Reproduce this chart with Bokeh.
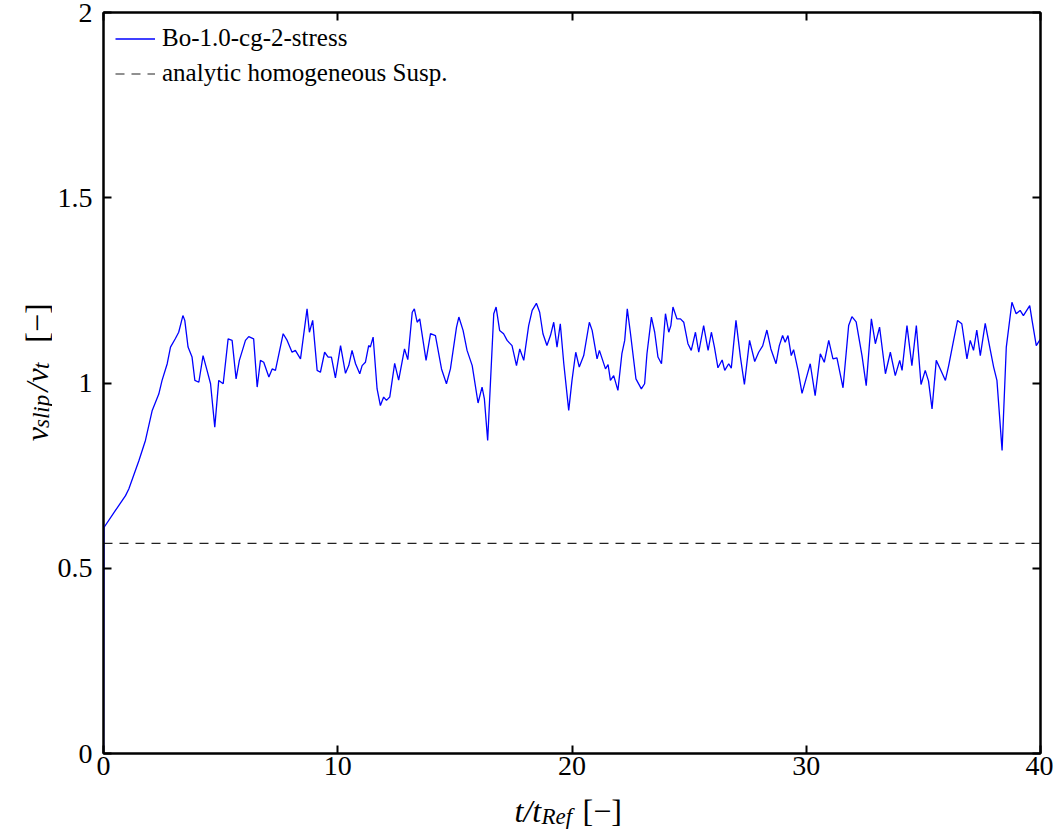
import math
from bokeh.plotting import figure
from bokeh.layouts import row, column
from bokeh.models import (LinearAxis, Range1d, Legend, LegendItem, Label, FixedTicker,
                          CustomJSTickFormatter)
from bokeh.embed import file_html
from bokeh.resources import INLINE

# ---- data ----
t_vals = [0.0, 0.02, 0.51, 0.94, 1.08, 1.51, 1.79, 2.08, 2.36, 2.5, 2.72, 2.86, 3.07, 3.21, 3.39, 3.47,
          3.61, 3.78, 3.9, 4.07, 4.25, 4.42, 4.57, 4.75, 4.92, 5.11, 5.32, 5.49, 5.66, 5.80, 6.06, 6.2,
          6.41, 6.56, 6.70, 6.84, 7.06, 7.2, 7.34, 7.67, 7.84, 8.05, 8.19, 8.41, 8.69, 8.79, 8.93, 9.12,
          9.26, 9.44, 9.59, 9.73, 9.9, 10.12, 10.33, 10.47, 10.61, 10.76, 10.94, 11.04, 11.18, 11.32,
          11.39, 11.51, 11.68, 11.82, 11.96, 12.08, 12.22, 12.43, 12.6, 12.85, 12.99, 13.18, 13.27,
          13.39, 13.5, 13.77, 13.96, 14.17, 14.43, 14.64, 14.81, 15.07, 15.17, 15.35, 15.52, 15.74,
          15.99, 16.16, 16.26, 16.4, 16.66, 16.76, 16.91, 17.08, 17.23, 17.44, 17.63, 17.77, 17.94,
          18.15, 18.3, 18.48, 18.62, 18.76, 18.93, 19.08, 19.22, 19.36, 19.5, 19.65, 19.86, 20.0,
          20.16, 20.31, 20.5, 20.74, 20.86, 21.07, 21.17, 21.43, 21.54, 21.64, 21.78, 21.96, 22.13,
          22.25, 22.36, 22.49, 22.73, 22.96, 23.1, 23.2, 23.39, 23.53, 23.67, 23.82, 23.99, 24.13,
          24.22, 24.31, 24.48, 24.63, 24.77, 24.95, 25.09, 25.27, 25.41, 25.62, 25.81, 25.95, 26.08,
          26.23, 26.41, 26.52, 26.69, 26.8, 27.0, 27.19, 27.36, 27.58, 27.8, 27.97, 28.14, 28.32,
          28.49, 28.71, 28.85, 28.99, 29.1, 29.22, 29.36, 29.46, 29.65, 29.82, 30.03, 30.17, 30.38,
          30.6, 30.77, 30.96, 31.14, 31.31, 31.57, 31.81, 31.95, 32.13, 32.38, 32.56, 32.78, 32.95,
          33.13, 33.38, 33.59, 33.8, 33.99, 34.09, 34.3, 34.51, 34.7, 34.9, 35.08, 35.22, 35.37,
          35.55, 35.75, 35.94, 36.08, 36.29, 36.46, 36.64, 36.86, 37.0, 37.14, 37.28, 37.43, 37.64,
          37.86, 38.0, 38.14, 38.36, 38.54, 38.78, 38.96, 39.13, 39.27, 39.54, 39.64, 39.82, 40.0]
v_slip = [0.0, 0.61, 0.656, 0.696, 0.714, 0.79, 0.845, 0.926, 0.97, 1.007, 1.052, 1.097, 1.12, 1.137,
          1.182, 1.169, 1.097, 1.07, 1.007, 1.002, 1.074, 1.034, 0.998, 0.881, 1.007, 0.998, 1.119,
          1.115, 1.011, 1.061, 1.115, 1.125, 1.119, 0.989, 1.061, 1.056, 1.016, 1.038, 1.034, 1.133,
          1.115, 1.083, 1.088, 1.065, 1.2, 1.137, 1.169, 1.034, 1.029, 1.083, 1.07, 1.07, 1.014, 1.101,
          1.026, 1.047, 1.088, 1.052, 1.025, 1.047, 1.056, 1.101, 1.097, 1.124, 0.984, 0.939, 0.962,
          0.953, 0.962, 1.053, 1.008, 1.092, 1.063, 1.191, 1.2, 1.164, 1.173, 1.061, 1.133, 1.128,
          1.038, 0.998, 1.038, 1.151, 1.178, 1.142, 1.088, 1.047, 0.946, 0.989, 0.957, 0.845, 1.187,
          1.205, 1.142, 1.133, 1.115, 1.101, 1.047, 1.092, 1.061, 1.155, 1.196, 1.215, 1.191, 1.133,
          1.101, 1.128, 1.164, 1.097, 1.16, 1.052, 0.926, 1.007, 1.083, 1.043, 1.074, 1.164, 1.142,
          1.065, 1.088, 1.038, 1.05, 1.007, 1.02, 0.98, 1.079, 1.115, 1.2, 1.137, 1.011, 0.984, 0.998,
          1.079, 1.178, 1.137, 1.07, 1.052, 1.187, 1.137, 1.155, 1.205, 1.173, 1.173, 1.164, 1.106,
          1.088, 1.137, 1.083, 1.155, 1.088, 1.137, 1.097, 1.041, 1.062, 1.034, 1.052, 1.04, 1.169,
          1.07, 0.996, 1.115, 1.058, 1.083, 1.1, 1.143, 1.092, 1.052, 1.101, 1.128, 1.11, 1.128, 1.074,
          1.09, 1.034, 0.972, 1.02, 1.052, 0.966, 1.079, 1.056, 1.115, 1.065, 1.068, 0.987, 1.155,
          1.179, 1.165, 1.074, 0.993, 1.173, 1.106, 1.151, 1.025, 1.083, 1.02, 1.061, 1.034, 1.155,
          1.047, 1.155, 0.996, 1.034, 1.005, 0.93, 1.061, 1.034, 1.007, 1.047, 1.115, 1.169, 1.16,
          1.065, 1.115, 1.088, 1.143, 1.074, 1.161, 1.088, 1.043, 1.007, 0.818, 1.097, 1.218, 1.187,
          1.196, 1.182, 1.209, 1.169, 1.101, 1.119]
analytic_t = [0.0, 40.0]
analytic_v = [0.567, 0.567]

x_ticks = [0, 10, 20, 30, 40]
y_ticks = [0, 0.5, 1, 1.5, 2]
y_tick_labels = {0: "0", 0.5: "0.5", 1: "1", 1.5: "1.5", 2: "2"}

series_names = ["Bo-1.0-cg-2-stress", "analytic homogeneous Susp."]

FONT = "Liberation Serif"

YLAB_W = 52
MAIN_W = 1053 - YLAB_W
MAIN_H = 790
XLAB_H = 832 - MAIN_H

p = figure(width=MAIN_W, height=MAIN_H, output_backend="svg", toolbar_location=None,
           x_range=Range1d(0, 40), y_range=Range1d(0, 2),
           min_border_left=103 - YLAB_W, min_border_right=13, min_border_top=12,
           min_border_bottom=MAIN_H - 753,
           x_axis_location=None, y_axis_location=None)
p.grid.visible = False
p.outline_line_color = "black"
p.outline_line_width = 2
p.background_fill_color = "white"
p.border_fill_color = "white"

def style_axis(ax, ticks, labels=True):
    ax.ticker = FixedTicker(ticks=ticks)
    ax.axis_line_color = "black"
    ax.axis_line_width = 2
    ax.major_tick_line_color = "black"
    ax.major_tick_line_width = 2
    ax.major_tick_in = 8
    ax.major_tick_out = 0
    ax.minor_tick_line_color = None
    if labels:
        ax.major_label_text_font = FONT
        ax.major_label_text_font_size = "28px"
        ax.major_label_text_color = "black"
    else:
        ax.formatter = CustomJSTickFormatter(code="return ''")
        ax.major_label_text_font_size = "1px"
        ax.major_label_standoff = 0

xb = LinearAxis()
style_axis(xb, x_ticks)
xb.major_label_standoff = 3
p.add_layout(xb, "below")

yl = LinearAxis()
style_axis(yl, y_ticks)
yl.major_label_standoff = 11
yl.major_label_overrides = y_tick_labels
p.add_layout(yl, "left")

xt = LinearAxis()
style_axis(xt, x_ticks, labels=False)
p.add_layout(xt, "above")

yr = LinearAxis()
style_axis(yr, y_ticks, labels=False)
p.add_layout(yr, "right")

r1 = p.line(t_vals, v_slip, line_color="#0000ff", line_width=1.3)
r2 = p.line(analytic_t, analytic_v, line_color="#222222", line_width=1.2, line_dash="9 7")

legend = Legend(items=[LegendItem(label=series_names[0], renderers=[r1]),
                       LegendItem(label=series_names[1], renderers=[r2])],
                location="top_left")
legend.label_text_font = FONT
legend.label_text_font_size = "25px"
legend.label_text_color = "black"
legend.border_line_alpha = 0
legend.background_fill_alpha = 0
legend.glyph_width = 40
legend.glyph_height = 25
legend.label_height = 25
legend.label_standoff = 7
legend.spacing = 7
legend.margin = 4
legend.padding = 8
p.add_layout(legend, "center")


def blank_fig(w, h):
    f = figure(width=w, height=h, output_backend="svg", toolbar_location=None,
               x_range=Range1d(0, w), y_range=Range1d(0, h),
               min_border=0, x_axis_location=None, y_axis_location=None)
    f.grid.visible = False
    f.outline_line_color = None
    f.background_fill_color = "white"
    f.border_fill_color = "white"
    return f


def lab(f, x, y, text, size, italic=True, align="left", angle=0.0):
    f.add_layout(Label(x=x, y=y, text=text, text_font=FONT,
                       text_font_size=size, text_font_style="italic" if italic else "normal",
                       text_align=align, text_baseline="alphabetic", angle=angle,
                       text_color="black"))

# y label panel: v_slip / v_t [-]
ylab = blank_fig(YLAB_W, MAIN_H)
ang = math.pi / 2
lab(ylab, 36, MAIN_H - 457, "v", "32px", angle=ang)
lab(ylab, 41, MAIN_H - 443, "slip", "23px", angle=ang)
lab(ylab, 36, MAIN_H - 404, "/v", "32px", angle=ang)
lab(ylab, 41, MAIN_H - 380, "t", "23px", angle=ang)
lab(ylab, 36, MAIN_H - 352, "[\u2212]", "32px", italic=False, angle=ang)

# x label panel: t / t_Ref [-]
xlab = blank_fig(1053, XLAB_H)
lab(xlab, 514, 832 - 810, "t/t", "32px")
lab(xlab, 541, 832 - 816, "Ref", "23px")
lab(xlab, 582, 832 - 810, "[\u2212]", "32px", italic=False)

layout = column(row(ylab, p, spacing=0), xlab, spacing=0)

open("out.html", "w").write(file_html(layout, INLINE))
